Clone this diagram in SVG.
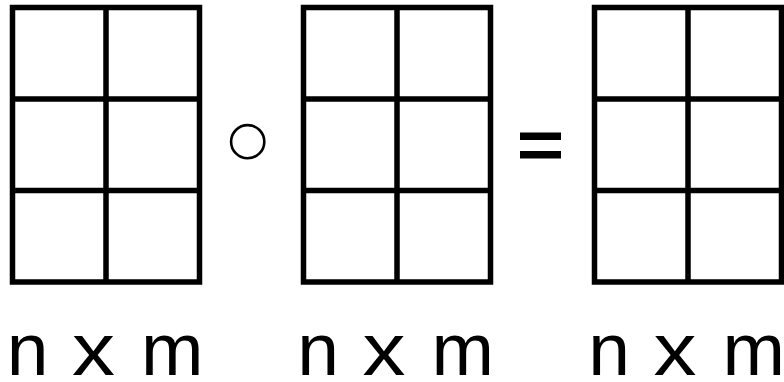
<svg xmlns="http://www.w3.org/2000/svg" width="784" height="382" viewBox="0 0 784 382">
<style>
.g{fill:none;stroke:#000;stroke-width:5.5;stroke-linecap:square}
.t{font-family:"Liberation Sans",Arial,sans-serif;font-size:75px;fill:#000}
</style>
<rect width="784" height="382" fill="#fff"/>
<g id="matrix1">
<path class="g" d="M12.5,7.5H199.5V282H12.5Z M106,7.5V282 M12.5,99H199.5 M12.5,190.5H199.5"/>
</g>
<g id="matrix2">
<path class="g" d="M303.5,7.5H490.5V282H303.5Z M397,7.5V282 M303.5,99H490.5 M303.5,190.5H490.5"/>
</g>
<g id="matrix3">
<path class="g" d="M594.5,7.5H781.5V282H594.5Z M688,7.5V282 M594.5,99H781.5 M594.5,190.5H781.5"/>
</g>
<g id="hadamard">
<circle cx="247.7" cy="141.7" r="16.6" fill="none" stroke="#000" stroke-width="2.6"/>
</g>
<g id="equals">
<rect x="520" y="132.5" width="41" height="7.5" fill="#000"/>
<rect x="520" y="151" width="41" height="7.5" fill="#000"/>
</g>
<g id="labels">
<text class="t" y="375"><tspan x="6.8">n</tspan> <tspan x="71.9" textLength="43" lengthAdjust="spacingAndGlyphs">x</tspan> <tspan x="141.1">m</tspan></text>
<text class="t" y="375"><tspan x="297.3">n</tspan> <tspan x="362.4" textLength="43" lengthAdjust="spacingAndGlyphs">x</tspan> <tspan x="431.6">m</tspan></text>
<text class="t" y="375"><tspan x="588.3">n</tspan> <tspan x="653.4" textLength="43" lengthAdjust="spacingAndGlyphs">x</tspan> <tspan x="722.6">m</tspan></text>
</g>
<g id="connectors"></g>
</svg>
